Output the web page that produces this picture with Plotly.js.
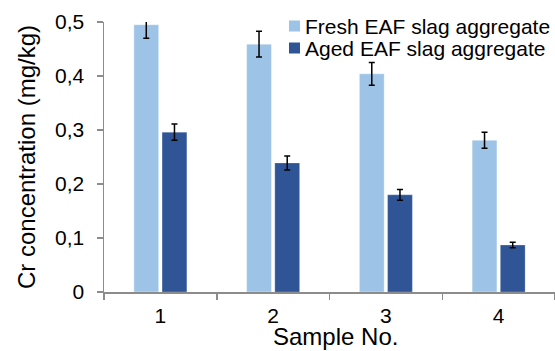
<!DOCTYPE html>
<html>
<head>
<meta charset="utf-8">
<script src="https://cdn.plot.ly/plotly-3.0.1.min.js"></script>
<style>html,body{margin:0;padding:0;background:#fff;}#chart{width:555px;height:351px;}</style>
</head>
<body>
<div id="chart"></div>
<script>
const samples = ['1', '2', '3', '4'];
const seriesNames = ['Fresh EAF slag aggregate', 'Aged EAF slag aggregate'];
const freshValues = [0.495, 0.459, 0.404, 0.281];
const freshErrors = [0.025, 0.024, 0.021, 0.015];
const agedValues = [0.296, 0.239, 0.180, 0.087];
const agedErrors = [0.015, 0.013, 0.010, 0.005];
const yTickVals = [0, 0.1, 0.2, 0.3, 0.4, 0.5];
const yTickText = ['0', '0,1', '0,2', '0,3', '0,4', '0,5'];
const xTitle = 'Sample No.';
const yTitle = 'Cr concentration (mg/kg)';

const font = 'Liberation Sans, Arial, sans-serif';
const colors = ['#9DC3E6', '#2F5597'];
const errStyle = {type: 'data', visible: true, color: '#000', thickness: 1.5, width: 3};

const traces = [
  {type: 'bar', name: seriesNames[0], x: samples, y: freshValues,
   error_y: Object.assign({array: freshErrors}, errStyle),
   marker: {color: colors[0], line: {color: 'rgba(255,255,255,0.6)', width: 0.6}}},
  {type: 'bar', name: seriesNames[1], x: samples, y: agedValues,
   error_y: Object.assign({array: agedErrors}, errStyle),
   marker: {color: colors[1], line: {color: 'rgba(255,255,255,0.4)', width: 0.6}}}
];

// custom legend and x title (pixel positions converted to paper coords)
const L = 104, T = 22, W = 451, H = 270;
const px = v => (v - L) / W;
const py = v => (T + H - v) / H;
const legendRows = [26, 48];
const shapes = [], annotations = [];
seriesNames.forEach((nm, i) => {
  const cy = legendRows[i];
  shapes.push({type: 'rect', xref: 'paper', yref: 'paper', x0: px(289), x1: px(300),
    y0: py(cy + 5.5), y1: py(cy - 5.5), fillcolor: colors[i], line: {width: 0}});
  annotations.push({xref: 'paper', yref: 'paper', x: px(303), y: py(cy), xanchor: 'left', yanchor: 'middle',
    text: nm, showarrow: false, font: {family: font, size: 21, color: '#000'}});
});
annotations.push({xref: 'paper', yref: 'paper', x: px(335), y: py(336), xanchor: 'center', yanchor: 'middle',
  text: xTitle, showarrow: false, font: {family: font, size: 24, color: '#000'}});

const layout = {
  width: 555, height: 351,
  margin: {l: 104, r: 0, t: 22, b: 59},
  paper_bgcolor: '#fff', plot_bgcolor: '#fff',
  font: {family: font, color: '#000', size: 21},
  barmode: 'group', bargap: 0.5, bargroupgap: 0.12,
  showlegend: false,
  shapes: shapes, annotations: annotations,
  xaxis: {type: 'category', showline: true, linecolor: '#8c8c8c', linewidth: 1.5,
          ticks: 'outside', tickson: 'boundaries', ticklen: 6, tickcolor: '#8c8c8c', tickwidth: 1.5,
          showgrid: false, zeroline: false, tickfont: {size: 21}, ticklabelstandoff: 4},
  yaxis: {range: [0, 0.5], showline: true, linecolor: '#8c8c8c', linewidth: 1.5,
          ticks: 'outside', ticklen: 6, tickcolor: '#8c8c8c', tickwidth: 1.5,
          tickvals: yTickVals, ticktext: yTickText, showgrid: false, zeroline: false,
          tickfont: {size: 21}, ticklabelstandoff: 8,
          title: {text: yTitle, font: {size: 24}, standoff: 12}}
};

Plotly.newPlot('chart', traces, layout, {staticPlot: true, displayModeBar: false});
</script>
</body>
</html>
